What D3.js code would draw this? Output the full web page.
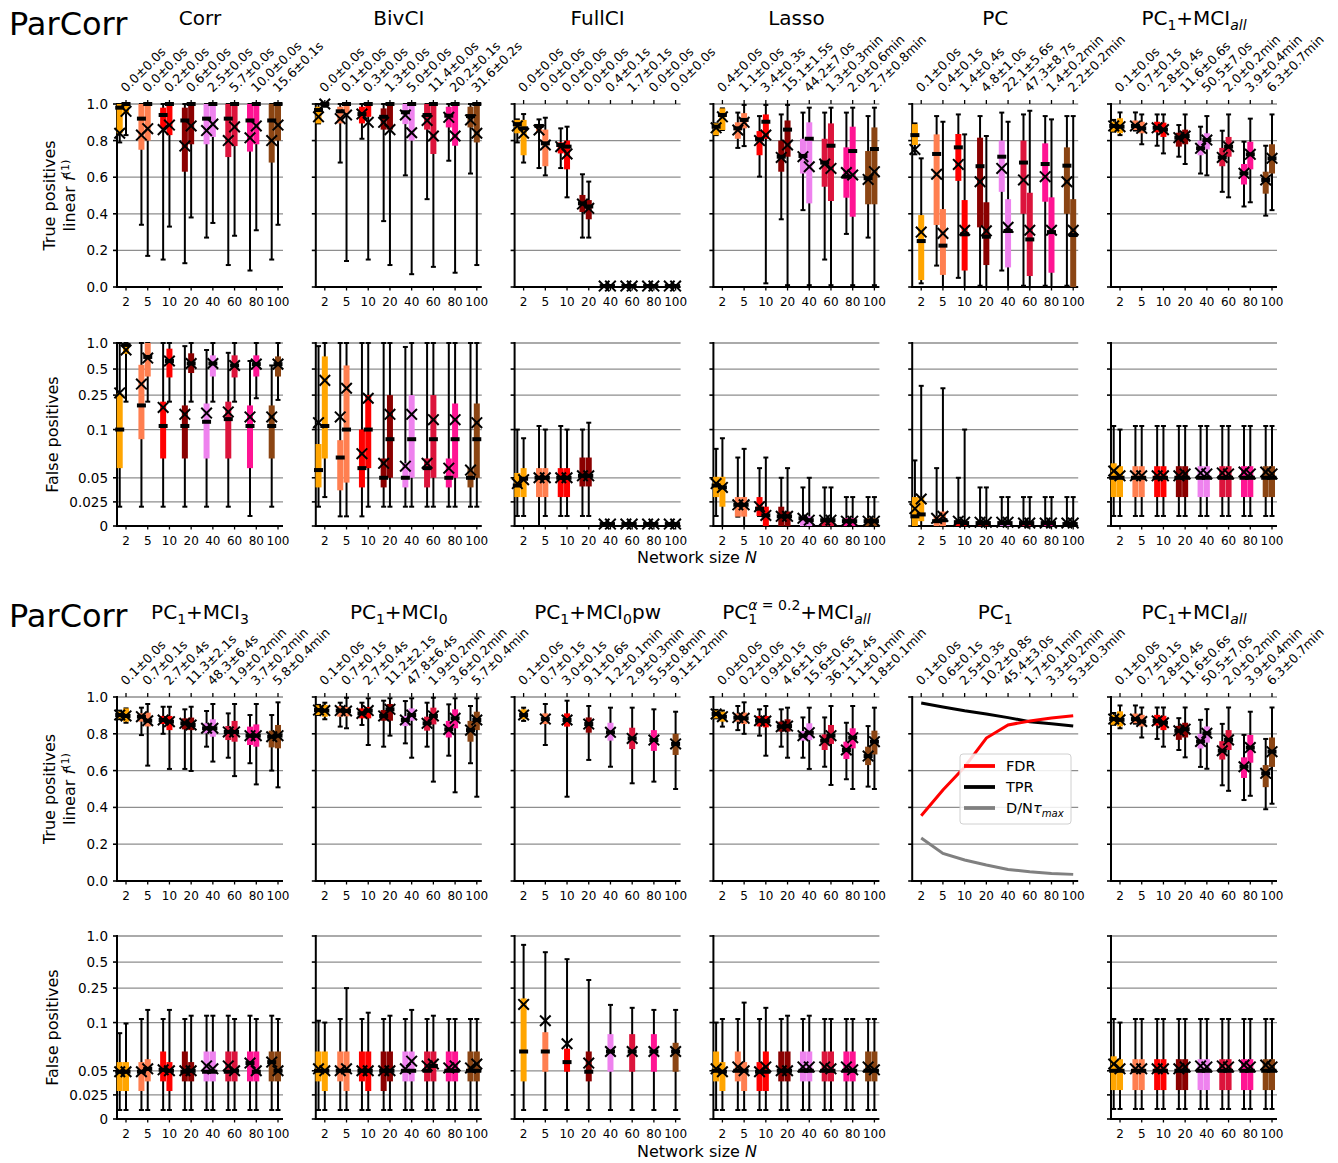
<!DOCTYPE html>
<html>
<head>
<meta charset="utf-8">
<script src="https://cdn.jsdelivr.net/npm/d3@7"></script>
<style>
  html, body { margin: 0; padding: 0; background: #fff; }
  svg { display: block; font-family: "DejaVu Sans", sans-serif; }
</style>
</head>
<body>
<svg id="chart" width="1338" height="1163"></svg>
<script>
// ---------------- data ----------------
// network sizes on the x axis
const categories = [2, 5, 10, 20, 40, 60, 80, 100];
const sizeColors = ["#ffa500", "#ff7f50", "#ff0000", "#8b0000", "#ee82ee", "#dc143c", "#ff1493", "#8b4513"];
const tpTicks = [0, 0.2, 0.4, 0.6, 0.8, 1.0];
const tpTickLabels = ["0.0", "0.2", "0.4", "0.6", "0.8", "1.0"];
const fpTicks = [0, 0.025, 0.05, 0.1, 0.25, 0.5, 1.0];
const fpTickLabels = ["0", "0.025", "0.05", "0.1", "0.25", "0.5", "1.0"];

// each entry: [lowWhisker, q1, median, q3, highWhisker, mean]; two variants per size
const corrTP = [
  [[0.79,0.84,0.98,1.0,1.0,0.84],[0.83,0.95,1.0,1.0,1.0,0.96]],
  [[0.34,0.75,0.92,1.0,1.0,0.83],[0.17,0.80,1.0,1.0,1.0,0.865]],
  [[0.15,0.87,0.94,0.98,1.0,0.86],[0.33,0.83,1.0,1.0,1.0,0.885]],
  [[0.13,0.63,0.91,0.98,1.0,0.77],[0.38,0.78,1.0,1.0,1.0,0.88]],
  [[0.27,0.78,0.92,1.0,1.0,0.855],[0.35,0.82,1.0,1.0,1.0,0.89]],
  [[0.12,0.71,0.92,1.0,1.0,0.80],[0.28,0.77,1.0,1.0,1.0,0.875]],
  [[0.09,0.74,0.91,1.0,1.0,0.815],[0.31,0.78,1.0,1.0,1.0,0.88]],
  [[0.15,0.68,0.91,1.0,1.0,0.80],[0.34,0.80,1.0,1.0,1.0,0.885]]
];
const corrFP = [
  [[0.02,0.06,0.1,0.26,1.0,0.265],[0.21,0.75,0.95,1.0,1.0,0.83]],
  [[0.02,0.09,0.19,0.56,1.0,0.335],[0.21,0.41,0.69,1.0,1.0,0.67]],
  [[0.02,0.07,0.11,0.21,1.0,0.18],[0.21,0.40,0.62,0.86,1.0,0.62]],
  [[0.02,0.07,0.11,0.19,0.92,0.15],[0.21,0.45,0.58,0.76,1.0,0.58]],
  [[0.02,0.07,0.123,0.2,0.83,0.155],[0.21,0.41,0.58,0.72,1.0,0.58]],
  [[0.02,0.07,0.132,0.21,0.77,0.16],[0.21,0.40,0.55,0.72,1.0,0.55]],
  [[0.0104,0.06,0.11,0.19,0.62,0.14],[0.23,0.41,0.57,0.72,1.0,0.57]],
  [[0.02,0.07,0.11,0.19,0.55,0.14],[0.22,0.41,0.57,0.70,1.0,0.57]]
];
const bivTP = [
  [[0.894,0.894,0.967,0.985,1.0,0.93],[0.985,0.99,1.0,1.0,1.0,1.0]],
  [[0.68,0.894,0.96,0.985,1.0,0.92],[0.142,0.95,1.0,1.0,1.0,0.94]],
  [[0.81,0.894,0.945,0.985,1.0,0.945],[0.15,0.93,1.0,1.0,1.0,0.90]],
  [[0.36,0.86,0.93,0.976,1.0,0.90],[0.12,0.86,1.0,1.0,1.0,0.86]],
  [[0.61,0.89,0.955,1.0,1.0,0.94],[0.07,0.80,1.0,1.0,1.0,0.843]],
  [[0.48,0.86,0.94,1.0,1.0,0.91],[0.11,0.727,1.0,1.0,1.0,0.825]],
  [[0.69,0.872,0.936,0.985,1.0,0.927],[0.078,0.772,1.0,1.0,1.0,0.825]],
  [[0.62,0.872,0.934,0.985,1.0,0.913],[0.12,0.79,1.0,1.0,1.0,0.84]]
];
const bivFP = [
  [[0.02,0.04,0.058,0.085,0.92,0.12],[0.03,0.07,0.11,0.7,1.0,0.37]],
  [[0.01,0.037,0.071,0.089,1.0,0.14],[0.01,0.045,0.1,0.55,1.0,0.3]],
  [[0.01,0.04,0.06,0.1,1.0,0.075],[0.02,0.06,0.1,0.25,1.0,0.23]],
  [[0.02,0.04,0.05,0.07,1.0,0.065],[0.02,0.05,0.09,0.25,1.0,0.15]],
  [[0.02,0.04,0.05,0.065,0.9,0.062],[0.02,0.05,0.09,0.25,1.0,0.15]],
  [[0.02,0.04,0.06,0.07,1.0,0.065],[0.02,0.05,0.09,0.25,1.0,0.13]],
  [[0.02,0.04,0.05,0.07,1.0,0.06],[0.02,0.05,0.09,0.2,1.0,0.13]],
  [[0.02,0.04,0.05,0.06,1.0,0.058],[0.02,0.05,0.09,0.2,1.0,0.12]]
];
const fullTP = [
  [[0.79,0.84,0.89,0.913,0.916,0.88],[0.68,0.72,0.867,0.913,0.945,0.84]],
  [[0.65,0.85,0.88,0.89,0.916,0.858],[0.61,0.66,0.785,0.86,0.925,0.776]],
  [[0.65,0.73,0.776,0.79,0.867,0.767],[0.49,0.643,0.767,0.80,0.876,0.727]],
  [[0.27,0.41,0.457,0.503,0.616,0.453],[0.27,0.37,0.44,0.475,0.576,0.43]],
  [[0,0,0.005,0.01,0.01,0.005],[0,0,0.005,0.01,0.01,0.005]],
  [[0,0,0.005,0.01,0.01,0.005],[0,0,0.005,0.01,0.01,0.005]],
  [[0,0,0.005,0.01,0.01,0.005],[0,0,0.005,0.01,0.01,0.005]],
  [[0,0,0.005,0.01,0.01,0.005],[0,0,0.005,0.01,0.01,0.005]]
];
const fullFP = [
  [[0.0104,0.03,0.042,0.055,0.1,0.044],[0.0104,0.03,0.049,0.06,0.091,0.048]],
  [[0.0,0.03,0.05,0.06,0.11,0.05],[0.0104,0.03,0.05,0.06,0.1,0.05]],
  [[0.0104,0.03,0.05,0.06,0.11,0.05],[0.0104,0.03,0.05,0.06,0.1,0.05]],
  [[0.0104,0.041,0.052,0.071,0.1,0.052],[0.0104,0.041,0.052,0.071,0.12,0.052]],
  [[0,0,0.002,0.003,0.003,0.002],[0,0,0.002,0.003,0.003,0.002]],
  [[0,0,0.002,0.003,0.003,0.002],[0,0,0.002,0.003,0.003,0.002]],
  [[0,0,0.002,0.003,0.003,0.002],[0,0,0.002,0.003,0.003,0.002]],
  [[0,0,0.002,0.003,0.003,0.002],[0,0,0.002,0.003,0.003,0.002]]
];
const lassoTP = [
  [[0.83,0.83,0.876,0.894,0.894,0.87],[0.858,0.858,0.94,0.976,0.976,0.93]],
  [[0.76,0.81,0.867,0.90,0.953,0.858],[0.77,0.867,0.913,0.95,0.995,0.90]],
  [[0.603,0.72,0.807,0.852,0.934,0.80],[0.02,0.81,0.903,0.943,0.995,0.83]],
  [[0.37,0.63,0.712,0.80,0.943,0.708],[0.01,0.712,0.86,0.91,0.995,0.776]],
  [[0.42,0.62,0.716,0.81,0.953,0.712],[0.01,0.457,0.81,0.90,0.98,0.657]],
  [[0.15,0.548,0.68,0.81,0.953,0.672],[0.01,0.47,0.772,0.894,0.98,0.648]],
  [[0.29,0.488,0.603,0.763,0.953,0.625],[0.01,0.384,0.743,0.876,0.98,0.612]],
  [[0.27,0.452,0.594,0.743,0.934,0.588],[0.01,0.452,0.754,0.872,0.98,0.63]]
];
const lassoFP = [
  [[0.0104,0.03,0.042,0.051,0.08,0.044],[0,0.02,0.04,0.051,0.091,0.04]],
  [[0.0097,0.0097,0.022,0.03,0.071,0.022],[0,0.0097,0.022,0.03,0.08,0.022]],
  [[0.0104,0.0104,0.018,0.03,0.06,0.02],[0,0,0.011,0.02,0.071,0.011]],
  [[0,0,0.01,0.02,0.05,0.01],[0,0,0.01,0.015,0.06,0.01]],
  [[0,0,0.008,0.01,0.04,0.008],[0,0,0.006,0.01,0.05,0.006]],
  [[0,0,0.006,0.008,0.04,0.006],[0,0,0.006,0.008,0.04,0.006]],
  [[0,0,0.005,0.008,0.03,0.005],[0,0,0.005,0.008,0.03,0.005]],
  [[0,0,0.005,0.008,0.03,0.005],[0,0,0.005,0.008,0.03,0.005]]
];
const pcTP = [
  [[0.725,0.776,0.83,0.89,0.894,0.752],[0.02,0.038,0.251,0.393,0.703,0.30]],
  [[0.117,0.339,0.727,0.834,0.934,0.616],[0.0,0.066,0.226,0.426,0.903,0.293]],
  [[0.05,0.58,0.763,0.836,0.943,0.67],[0.0,0.09,0.288,0.475,0.834,0.31]],
  [[0.007,0.326,0.66,0.816,0.934,0.575],[0.0,0.12,0.275,0.463,0.825,0.307]],
  [[0.09,0.52,0.712,0.80,0.953,0.648],[0.0,0.107,0.306,0.48,0.903,0.326]],
  [[0.007,0.40,0.68,0.80,0.943,0.585],[0.0,0.06,0.26,0.515,0.963,0.31]],
  [[0.007,0.466,0.672,0.785,0.934,0.603],[0.0,0.078,0.30,0.49,0.916,0.31]],
  [[0.007,0.40,0.663,0.763,0.934,0.575],[0.0,0.0,0.284,0.48,0.934,0.31]]
];
const pcFP = [
  [[0,0,0.01,0.03,0.068,0.018],[0,0.005,0.012,0.03,0.32,0.028]],
  [[0,0,0.005,0.01,0.06,0.008],[0,0,0.006,0.015,0.3,0.01]],
  [[0,0,0.004,0.006,0.05,0.005],[0,0,0.003,0.005,0.1,0.004]],
  [[0,0,0.003,0.005,0.04,0.004],[0,0,0.003,0.005,0.04,0.004]],
  [[0,0,0.003,0.005,0.03,0.004],[0,0,0.003,0.005,0.03,0.004]],
  [[0,0,0.003,0.004,0.03,0.003],[0,0,0.003,0.004,0.03,0.003]],
  [[0,0,0.003,0.004,0.03,0.003],[0,0,0.003,0.004,0.03,0.003]],
  [[0,0,0.002,0.004,0.03,0.003],[0,0,0.002,0.004,0.03,0.003]]
];
const mciAllTP = [
  [[0.849,0.849,0.88,0.903,0.913,0.88],[0.83,0.84,0.876,0.922,0.954,0.876]],
  [[0.855,0.858,0.88,0.91,0.954,0.88],[0.78,0.84,0.867,0.903,0.943,0.867]],
  [[0.772,0.845,0.87,0.903,0.943,0.87],[0.73,0.82,0.86,0.898,0.943,0.86]],
  [[0.712,0.767,0.816,0.843,0.885,0.816],[0.672,0.78,0.825,0.86,0.943,0.825]],
  [[0.62,0.72,0.758,0.80,0.876,0.758],[0.61,0.752,0.803,0.84,0.934,0.803]],
  [[0.52,0.66,0.708,0.76,0.854,0.708],[0.49,0.712,0.767,0.82,0.943,0.767]],
  [[0.44,0.56,0.621,0.672,0.794,0.621],[0.463,0.643,0.725,0.794,0.92,0.725]],
  [[0.39,0.51,0.585,0.63,0.772,0.585],[0.42,0.62,0.703,0.78,0.943,0.703]]
];
const mciAllFP = [
  [[0.0104,0.03,0.05,0.065,0.11,0.057],[0.0104,0.03,0.05,0.062,0.1,0.052]],
  [[0.0104,0.03,0.05,0.062,0.11,0.052],[0.0104,0.03,0.05,0.062,0.11,0.052]],
  [[0.0104,0.03,0.05,0.062,0.11,0.052],[0.0104,0.03,0.05,0.062,0.11,0.052]],
  [[0.0104,0.03,0.05,0.062,0.11,0.052],[0.0104,0.03,0.05,0.062,0.11,0.054]],
  [[0.0104,0.03,0.05,0.062,0.11,0.055],[0.0104,0.03,0.05,0.062,0.11,0.054]],
  [[0.0104,0.03,0.05,0.062,0.11,0.055],[0.0104,0.03,0.05,0.062,0.11,0.054]],
  [[0.0104,0.03,0.05,0.062,0.11,0.056],[0.0104,0.03,0.05,0.062,0.11,0.054]],
  [[0.0104,0.03,0.05,0.062,0.11,0.056],[0.0104,0.03,0.05,0.062,0.11,0.054]]
];
const mci3TP = [
  [[0.879,0.884,0.902,0.92,0.926,0.902],[0.86,0.866,0.897,0.938,0.938,0.897]],
  [[0.793,0.866,0.893,0.911,0.942,0.893],[0.627,0.84,0.871,0.915,0.962,0.871]],
  [[0.80,0.853,0.875,0.897,0.947,0.875],[0.609,0.82,0.866,0.897,0.947,0.866]],
  [[0.609,0.824,0.857,0.884,0.933,0.857],[0.598,0.82,0.848,0.888,0.947,0.848]],
  [[0.73,0.803,0.83,0.857,0.924,0.83],[0.649,0.784,0.83,0.879,0.962,0.83]],
  [[0.67,0.766,0.81,0.842,0.911,0.81],[0.57,0.757,0.81,0.87,0.962,0.81]],
  [[0.64,0.739,0.79,0.839,0.902,0.79],[0.525,0.73,0.79,0.851,0.962,0.79]],
  [[0.60,0.726,0.784,0.817,0.902,0.784],[0.509,0.721,0.79,0.848,0.971,0.79]]
];
const mci3FP = [
  [[0.0093,0.029,0.049,0.059,0.089,0.049],[0.0093,0.029,0.049,0.059,0.099,0.049]],
  [[0.0093,0.029,0.049,0.059,0.11,0.049],[0.0093,0.039,0.052,0.062,0.14,0.052]],
  [[0.0093,0.039,0.051,0.07,0.11,0.051],[0.0093,0.029,0.05,0.059,0.14,0.05]],
  [[0.0093,0.039,0.049,0.07,0.11,0.05],[0.0093,0.039,0.05,0.059,0.12,0.05]],
  [[0.0093,0.039,0.049,0.07,0.12,0.055],[0.0093,0.039,0.049,0.07,0.12,0.052]],
  [[0.0093,0.039,0.049,0.07,0.12,0.055],[0.0093,0.039,0.05,0.07,0.11,0.05]],
  [[0.0093,0.039,0.058,0.07,0.12,0.058],[0.0093,0.039,0.049,0.07,0.11,0.05]],
  [[0.0093,0.039,0.059,0.07,0.12,0.059],[0.0093,0.039,0.05,0.07,0.11,0.05]]
];
const mci0TP = [
  [[0.902,0.902,0.929,0.955,0.957,0.929],[0.879,0.893,0.926,0.957,0.969,0.926]],
  [[0.839,0.893,0.926,0.951,0.969,0.926],[0.83,0.895,0.924,0.946,0.996,0.924]],
  [[0.848,0.884,0.911,0.938,0.969,0.911],[0.739,0.884,0.926,0.946,0.993,0.926]],
  [[0.73,0.871,0.897,0.929,0.98,0.897],[0.79,0.871,0.933,0.962,0.993,0.933]],
  [[0.748,0.842,0.875,0.897,0.978,0.875],[0.67,0.871,0.902,0.938,0.993,0.902]],
  [[0.73,0.817,0.857,0.893,0.969,0.857],[0.54,0.851,0.897,0.942,0.996,0.897]],
  [[0.681,0.78,0.824,0.87,0.96,0.824],[0.482,0.83,0.884,0.933,0.993,0.884]],
  [[0.64,0.757,0.82,0.87,0.951,0.82],[0.458,0.82,0.875,0.92,0.993,0.875]]
];
const mci0FP = [
  [[0.0093,0.039,0.05,0.07,0.105,0.052],[0.0093,0.029,0.05,0.07,0.1,0.05]],
  [[0.0093,0.039,0.05,0.07,0.11,0.05],[0.0093,0.029,0.05,0.07,0.25,0.052]],
  [[0.0093,0.039,0.05,0.07,0.11,0.05],[0.0093,0.029,0.05,0.07,0.13,0.05]],
  [[0.0093,0.029,0.05,0.07,0.11,0.05],[0.0093,0.039,0.05,0.07,0.12,0.05]],
  [[0.0093,0.039,0.05,0.07,0.11,0.052],[0.0093,0.039,0.05,0.07,0.14,0.06]],
  [[0.0093,0.039,0.05,0.07,0.11,0.055],[0.0093,0.039,0.055,0.07,0.12,0.057]],
  [[0.0093,0.039,0.05,0.07,0.11,0.053],[0.0093,0.039,0.05,0.07,0.11,0.055]],
  [[0.0093,0.039,0.05,0.07,0.11,0.053],[0.0093,0.039,0.05,0.07,0.11,0.057]]
];
// single variant per size
const mci0pwTP = [
  [[0.87,0.879,0.902,0.933,0.942,0.902]],
  [[0.739,0.853,0.88,0.911,0.962,0.88]],
  [[0.458,0.839,0.875,0.911,0.98,0.875]],
  [[0.658,0.806,0.853,0.889,0.951,0.853]],
  [[0.621,0.763,0.808,0.86,0.942,0.808]],
  [[0.531,0.717,0.775,0.833,0.942,0.775]],
  [[0.54,0.707,0.766,0.82,0.933,0.766]],
  [[0.5,0.685,0.745,0.80,0.92,0.745]]
];
const mci0pwFP = [
  [[0.0093,0.039,0.07,0.19,0.79,0.162]],
  [[0.0093,0.049,0.07,0.09,0.65,0.105]],
  [[0.0093,0.049,0.059,0.073,0.54,0.078]],
  [[0.0093,0.039,0.049,0.07,0.31,0.058]],
  [[0.0093,0.049,0.07,0.088,0.16,0.07]],
  [[0.0093,0.049,0.07,0.088,0.148,0.07]],
  [[0.0093,0.049,0.07,0.088,0.14,0.07]],
  [[0.0093,0.049,0.07,0.079,0.14,0.07]]
];
const alphaTP = [
  [[0.884,0.884,0.908,0.926,0.93,0.908],[0.839,0.866,0.893,0.92,0.926,0.893]],
  [[0.82,0.866,0.888,0.911,0.951,0.888],[0.80,0.853,0.884,0.915,0.971,0.884]],
  [[0.79,0.84,0.871,0.897,0.933,0.871],[0.681,0.835,0.869,0.897,0.951,0.869]],
  [[0.73,0.812,0.839,0.866,0.933,0.839],[0.67,0.812,0.842,0.879,0.942,0.842]],
  [[0.67,0.763,0.79,0.815,0.889,0.79],[0.609,0.766,0.806,0.857,0.942,0.806]],
  [[0.621,0.712,0.763,0.797,0.889,0.763],[0.522,0.745,0.79,0.848,0.951,0.79]],
  [[0.553,0.663,0.712,0.757,0.86,0.712],[0.5,0.721,0.779,0.83,0.951,0.779]],
  [[0.513,0.63,0.679,0.73,0.842,0.679],[0.5,0.688,0.757,0.817,0.942,0.757]]
];
const alphaFP = [
  [[0.0093,0.039,0.05,0.07,0.1,0.052],[0.0093,0.029,0.049,0.059,0.11,0.049]],
  [[0.0093,0.039,0.05,0.07,0.11,0.054],[0.0093,0.029,0.05,0.059,0.17,0.05]],
  [[0.0093,0.029,0.049,0.059,0.11,0.049],[0.0093,0.029,0.049,0.07,0.148,0.054]],
  [[0.0093,0.039,0.05,0.07,0.11,0.05],[0.0093,0.039,0.05,0.07,0.12,0.05]],
  [[0.0093,0.039,0.05,0.07,0.11,0.054],[0.0093,0.039,0.05,0.07,0.12,0.054]],
  [[0.0093,0.039,0.05,0.07,0.11,0.054],[0.0093,0.039,0.05,0.07,0.11,0.052]],
  [[0.0093,0.039,0.05,0.07,0.11,0.054],[0.0093,0.039,0.05,0.07,0.11,0.051]],
  [[0.0093,0.039,0.05,0.07,0.11,0.054],[0.0093,0.039,0.05,0.07,0.11,0.051]]
];
// PC1 summary curves
const pc1FDR = [0.355, 0.495, 0.62, 0.777, 0.848, 0.87, 0.886, 0.898];
const pc1TPR = [0.967, 0.946, 0.925, 0.908, 0.888, 0.866, 0.855, 0.842];
const pc1DN  = [0.234, 0.15, 0.114, 0.087, 0.063, 0.05, 0.041, 0.036];

// runtimes printed above each size
const corrTimes  = ["0.0±0.0s","0.0±0.0s","0.2±0.0s","0.6±0.0s","2.5±0.0s","5.7±0.0s","10.0±0.0s","15.6±0.1s"];
const bivTimes   = ["0.0±0.0s","0.1±0.0s","0.3±0.0s","1.3±0.0s","5.0±0.0s","11.4±0.0s","20.2±0.1s","31.6±0.2s"];
const fullTimes  = ["0.0±0.0s","0.0±0.0s","0.0±0.0s","0.0±0.0s","0.4±0.1s","1.7±0.1s","0.0±0.0s","0.0±0.0s"];
const lassoTimes = ["0.4±0.0s","1.1±0.0s","3.4±0.3s","15.1±1.5s","44.2±7.0s","1.3±0.3min","2.0±0.6min","2.7±0.8min"];
const pcTimes    = ["0.1±0.0s","0.4±0.1s","1.4±0.4s","4.8±1.0s","22.1±5.6s","47.3±8.7s","1.4±0.2min","2.2±0.2min"];
const mciAllTimes = ["0.1±0.0s","0.7±0.1s","2.8±0.4s","11.6±0.6s","50.5±7.0s","2.0±0.2min","3.9±0.4min","6.3±0.7min"];
const mci3Times  = ["0.1±0.0s","0.7±0.1s","2.7±0.4s","11.3±2.1s","48.3±6.4s","1.9±0.2min","3.7±0.2min","5.8±0.4min"];
const mci0Times  = ["0.1±0.0s","0.7±0.1s","2.7±0.4s","11.2±2.1s","47.8±6.4s","1.9±0.2min","3.6±0.2min","5.7±0.4min"];
const mci0pwTimes = ["0.1±0.0s","0.7±0.1s","3.0±0.1s","9.1±0.6s","1.2±0.1min","2.9±0.3min","5.5±0.8min","9.1±1.2min"];
const alphaTimes = ["0.0±0.0s","0.2±0.0s","0.9±0.1s","4.6±1.0s","15.6±0.6s","36.1±1.4s","1.1±0.1min","1.8±0.1min"];
const pc1Times   = ["0.1±0.0s","0.6±0.1s","2.5±0.3s","10.2±0.8s","45.4±3.0s","1.7±0.1min","3.3±0.2min","5.3±0.3min"];

// ---------------- layout ----------------
const svg = d3.select("#chart");
svg.append("rect").attr("width", 1338).attr("height", 1163).attr("fill", "#fff");

const colX0 = 117, colStep = 198.8, panelW = 166;
const blocks = [
  { tp: [104, 287], fp: [343, 526], titleY: 25, ptitleY: 35, xlabY: 563 },
  { tp: [697, 881], fp: [936, 1119], titleY: 619, ptitleY: 627, xlabY: 1157 }
];
const gridColor = "#8e8e8e";

// rich text helper: parts = {t, shift (px, +down), scale, italic, dx}
function rich(textSel, parts, base) {
  let cur = 0;
  parts.forEach(p => {
    const s = p.shift || 0;
    const ts = textSel.append("tspan").text(p.t)
      .attr("font-size", (p.scale || 1) * base)
      .attr("dy", s - cur);
    if (p.italic) ts.attr("font-style", "italic");
    if (p.dx) ts.attr("dx", p.dx);
    cur = s;
  });
}

// false-positive axis: linear up to 0.1, logarithmic above
function fpScale(bottom, top) {
  const H = bottom - top;
  const split = bottom - H * 0.527;
  const lin = d3.scaleLinear().domain([0, 0.1]).range([bottom, split]);
  const lg = d3.scaleLog().domain([0.1, 1]).range([split, top]);
  return v => (v <= 0.1 ? lin(Math.max(0, v)) : lg(v));
}

function xScaleFor(col) {
  const left = colX0 + col * colStep;
  return d3.scaleLinear().domain([0.585, 8.23]).range([left, left + panelW]);
}

function drawAxesFrame(g, x, y, ticks, labels, showLabels, bottomLabels, topLabels) {
  const left = x.range()[0], right = x.range()[1];
  const top = y(1), bottom = y(0);
  // grid
  g.selectAll(null).data(ticks.filter(t => t > 0)).join("line")
    .attr("x1", left).attr("x2", right)
    .attr("y1", d => y(d)).attr("y2", d => y(d))
    .attr("stroke", gridColor).attr("stroke-width", 1.3);
  // y ticks
  g.selectAll(null).data(ticks).join("line")
    .attr("x1", left - 4).attr("x2", left)
    .attr("y1", d => y(d)).attr("y2", d => y(d))
    .attr("stroke", "#000").attr("stroke-width", 1.6);
  if (showLabels) {
    g.selectAll(null).data(ticks).join("text")
      .attr("x", left - 9).attr("y", d => y(d) + 5)
      .attr("text-anchor", "end").attr("font-size", 13.5)
      .text((d, i) => labels[i]);
  }
  // category ticks
  const pos = categories.map((c, i) => x(i + 1));
  g.selectAll(null).data(pos).join("line")
    .attr("x1", d => d).attr("x2", d => d)
    .attr("y1", bottom).attr("y2", bottom + 3.5)
    .attr("stroke", "#000").attr("stroke-width", 1.3);
  if (bottomLabels) {
    g.selectAll(null).data(categories).join("text")
      .attr("x", (d, i) => x(i + 1)).attr("y", bottom + 19)
      .attr("text-anchor", "middle").attr("font-size", 12)
      .text(d => d);
  }
  if (topLabels) {
    g.selectAll(null).data(pos).join("line")
      .attr("x1", d => d).attr("x2", d => d)
      .attr("y1", top).attr("y2", top - 4)
      .attr("stroke", "#000").attr("stroke-width", 1.3);
    g.selectAll(null).data(topLabels).join("text")
      .attr("transform", (d, i) => `translate(${x(i + 1)},${top - 11}) rotate(-45)`)
      .attr("font-size", 12.6)
      .text(d => d);
  }
  // spines
  g.append("line").attr("x1", left).attr("x2", left).attr("y1", top - 1).attr("y2", bottom + 1)
    .attr("stroke", "#000").attr("stroke-width", 2);
  g.append("line").attr("x1", left - 1).attr("x2", right).attr("y1", bottom).attr("y2", bottom)
    .attr("stroke", "#000").attr("stroke-width", 2);
}

function drawBoxes(g, x, y, data) {
  const items = [];
  data.forEach((group, i) => {
    group.forEach((st, j) => {
      const off = group.length === 2 ? (j === 0 ? -0.29 : 0) : 0;
      items.push({ cx: x(i + 1 + off), st, color: sizeColors[i] });
    });
  });
  const bw = 6, mw = 9, mh = 4, cap = 5, xs = 5.3;
  // whiskers
  items.forEach(d => {
    const [lo, q1, med, q3, hi, mean] = d.st;
    g.append("line").attr("x1", d.cx).attr("x2", d.cx).attr("y1", y(lo)).attr("y2", y(hi))
      .attr("stroke", "#000").attr("stroke-width", 2);
    [lo, hi].forEach(v => g.append("line")
      .attr("x1", d.cx - cap / 2).attr("x2", d.cx + cap / 2).attr("y1", y(v)).attr("y2", y(v))
      .attr("stroke", "#000").attr("stroke-width", 2));
  });
  // boxes
  items.forEach(d => {
    const [lo, q1, med, q3] = d.st;
    g.append("rect").attr("x", d.cx - bw / 2).attr("width", bw)
      .attr("y", y(q3)).attr("height", Math.max(0, y(q1) - y(q3)))
      .attr("fill", d.color);
  });
  // medians
  items.forEach(d => {
    g.append("rect").attr("x", d.cx - mw / 2).attr("width", mw)
      .attr("y", y(d.st[2]) - mh / 2).attr("height", mh).attr("fill", "#000");
  });
  // means
  items.forEach(d => {
    const my = y(d.st[5]);
    g.append("path")
      .attr("d", `M${d.cx - xs},${my - xs}L${d.cx + xs},${my + xs}M${d.cx - xs},${my + xs}L${d.cx + xs},${my - xs}`)
      .attr("stroke", "#000").attr("stroke-width", 2).attr("fill", "none");
  });
}

const sub = (t, italic) => ({ t, shift: 5, scale: 0.7, italic });
const panels = [
  [
    { title: [{ t: "Corr" }], tp: corrTP, fp: corrFP, times: corrTimes },
    { title: [{ t: "BivCI" }], tp: bivTP, fp: bivFP, times: bivTimes },
    { title: [{ t: "FullCI" }], tp: fullTP, fp: fullFP, times: fullTimes },
    { title: [{ t: "Lasso" }], tp: lassoTP, fp: lassoFP, times: lassoTimes },
    { title: [{ t: "PC" }], tp: pcTP, fp: pcFP, times: pcTimes },
    { title: [{ t: "PC" }, sub("1"), { t: "+MCI" }, sub("all", true)], tp: mciAllTP, fp: mciAllFP, times: mciAllTimes }
  ],
  [
    { title: [{ t: "PC" }, sub("1"), { t: "+MCI" }, sub("3")], tp: mci3TP, fp: mci3FP, times: mci3Times },
    { title: [{ t: "PC" }, sub("1"), { t: "+MCI" }, sub("0")], tp: mci0TP, fp: mci0FP, times: mci0Times },
    { title: [{ t: "PC" }, sub("1"), { t: "+MCI" }, sub("0"), { t: "pw" }], tp: mci0pwTP, fp: mci0pwFP, times: mci0pwTimes },
    { title: [{ t: "PC" }, sub("1"), { t: "α", shift: -9, scale: 0.7, italic: true, dx: -9 }, { t: " = 0.2", shift: -9, scale: 0.7 }, { t: "+MCI" }, sub("all", true)],
      tp: alphaTP, fp: alphaFP, times: alphaTimes },
    { title: [{ t: "PC" }, sub("1")], lines: true, times: pc1Times },
    { title: [{ t: "PC" }, sub("1"), { t: "+MCI" }, sub("all", true)], tp: mciAllTP, fp: mciAllFP, times: mciAllTimes }
  ]
];

panels.forEach((row, b) => {
  const L = blocks[b];
  svg.append("text").attr("x", 9).attr("y", L.ptitleY).attr("font-size", 32).text("ParCorr");
  row.forEach((p, c) => {
    const x = xScaleFor(c);
    const g = svg.append("g");
    const yTP = d3.scaleLinear().domain([0, 1]).range([L.tp[1], L.tp[0]]);
    const yFP = fpScale(L.fp[1], L.fp[0]);
    // title
    const cx = (x.range()[0] + x.range()[1]) / 2;
    const tt = g.append("text").attr("x", cx).attr("y", L.titleY).attr("text-anchor", "middle").attr("font-size", 20);
    rich(tt, p.title, 20);

    drawAxesFrame(g, x, yTP, tpTicks, tpTickLabels, c === 0, true, p.times);
    if (p.lines) {
      const line = d3.line().x((d, i) => x(i + 1)).y(d => yTP(d));
      [[pc1DN, "#808080"], [pc1TPR, "#000"], [pc1FDR, "#ff0000"]].forEach(([vals, col]) => {
        g.append("path").attr("d", line(vals)).attr("fill", "none")
          .attr("stroke", col).attr("stroke-width", 3);
      });
      // legend
      const lg = g.append("g").attr("transform", "translate(960,754)");
      lg.append("rect").attr("width", 111).attr("height", 70).attr("rx", 3)
        .attr("fill", "#fff").attr("fill-opacity", 0.85).attr("stroke", "#d0d0d0");
      const entries = [
        { col: "#ff0000", parts: [{ t: "FDR" }] },
        { col: "#000", parts: [{ t: "TPR" }] },
        { col: "#808080", parts: [{ t: "D/N" }, { t: "τ", italic: true }, { t: "max", shift: 4, scale: 0.7, italic: true }] }
      ];
      entries.forEach((e, k) => {
        const yy = 12 + k * 21;
        lg.append("line").attr("x1", 4).attr("x2", 35).attr("y1", yy).attr("y2", yy)
          .attr("stroke", e.col).attr("stroke-width", 3.8);
        const t = lg.append("text").attr("x", 46).attr("y", yy + 5).attr("font-size", 14.5);
        rich(t, e.parts, 14.5);
      });
    } else {
      drawBoxes(g, x, yTP, p.tp);
      const gf = svg.append("g");
      drawAxesFrame(gf, x, yFP, fpTicks, fpTickLabels, c === 0, true, null);
      drawBoxes(gf, x, yFP, p.fp);
    }
  });
  // y axis labels
  const tpMid = (L.tp[0] + L.tp[1]) / 2, fpMid = (L.fp[0] + L.fp[1]) / 2;
  svg.append("text").attr("transform", `translate(55,${tpMid}) rotate(-90)`)
    .attr("text-anchor", "middle").attr("font-size", 16).text("True positives");
  const l2 = svg.append("text").attr("transform", `translate(75,${tpMid}) rotate(-90)`)
    .attr("text-anchor", "middle").attr("font-size", 16);
  rich(l2, [{ t: "linear " }, { t: "f", italic: true }, { t: "(1)", shift: -6, scale: 0.7 }], 16);
  svg.append("text").attr("transform", `translate(58,${fpMid}) rotate(-90)`)
    .attr("text-anchor", "middle").attr("font-size", 16).text("False positives");
  // x axis label
  const xl = svg.append("text").attr("x", 697).attr("y", L.xlabY).attr("text-anchor", "middle").attr("font-size", 16);
  rich(xl, [{ t: "Network size " }, { t: "N", italic: true }], 16);
});
</script>
</body>
</html>
